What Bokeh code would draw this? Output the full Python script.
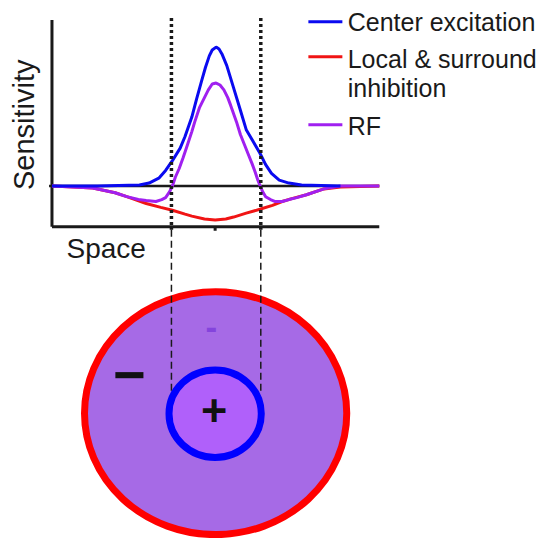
import math
from bokeh.plotting import figure
from bokeh.models import Range1d
from bokeh.core.properties import value
from bokeh.embed import file_html
from bokeh.resources import INLINE

# ---------------- data (space units; sensitivity, baseline = 0) ----------------
center_space = [-1.68, -1.21, -0.78, -0.68, -0.58, -0.51, -0.44, -0.36, -0.31, -0.24,
                -0.19, -0.14, -0.10, -0.06, -0.03, 0.01, 0.04, 0.07, 0.12, 0.19,
                0.26, 0.32, 0.39, 0.46, 0.52, 0.58, 0.66, 0.76, 0.89, 1.29]
center_sens = [0.0, 0.0, 0.01, 0.03, 0.08, 0.16, 0.26, 0.39, 0.51, 0.71,
               0.90, 1.08, 1.22, 1.34, 1.40, 1.43, 1.41, 1.36, 1.24, 1.01,
               0.78, 0.58, 0.46, 0.34, 0.22, 0.13, 0.06, 0.03, 0.01, 0.0]

inhib_space = [-1.68, -1.46, -1.26, -1.03, -0.91, -0.71, -0.56, -0.44, -0.31, -0.24,
               -0.11, 0.0, 0.11, 0.19, 0.32, 0.46, 0.59, 0.69, 0.79, 0.94,
               1.12, 1.29, 1.69]
inhib_sens = [0.0, -0.01, -0.02, -0.07, -0.11, -0.18, -0.22, -0.25, -0.29, -0.31,
              -0.34, -0.35, -0.34, -0.32, -0.28, -0.24, -0.20, -0.16, -0.13, -0.09,
              -0.03, -0.01, 0.0]

rf_space = [-1.68, -1.46, -1.26, -1.03, -0.91, -0.79, -0.71, -0.61, -0.55, -0.51,
            -0.47, -0.44, -0.41, -0.37, -0.33, -0.29, -0.24, -0.21, -0.16, -0.11,
            -0.07, -0.03, 0.01, 0.05, 0.09, 0.13, 0.16, 0.22, 0.26, 0.30,
            0.34, 0.38, 0.41, 0.44, 0.46, 0.49, 0.52, 0.57, 0.62, 0.69,
            0.76, 0.84, 0.94, 1.12, 1.29, 1.69]
rf_sens = [0.0, -0.01, -0.02, -0.07, -0.11, -0.14, -0.15, -0.16, -0.14, -0.12,
           -0.06, 0.0, 0.09, 0.18, 0.29, 0.41, 0.56, 0.66, 0.81, 0.91,
           0.99, 1.05, 1.06, 1.04, 0.99, 0.91, 0.83, 0.66, 0.53, 0.43,
           0.33, 0.23, 0.15, 0.06, 0.01, -0.06, -0.11, -0.14, -0.16, -0.16,
           -0.14, -0.12, -0.09, -0.03, 0.0, 0.0]

rf_edges = [-0.45, 0.47]            # borders of the centre (dashed guides)
legend_lines = ["Center excitation", "Local & surround", "inhibition", "RF"]
legend_colors = ["#0a0af0", "#f01414", "#a020f0"]
axis_labels = ["Sensitivity", "Space"]
signs = ["\u2212", "-", "+"]

BLUE, RED, MAG = legend_colors
FONT = value("Liberation Sans")
INK = "#1a1a1a"

p = figure(width=540, height=538, x_range=Range1d(-2.21, 3.35), y_range=Range1d(-3.63, 1.91),
           x_axis_type=None, y_axis_type=None, output_backend="svg", toolbar_location=None,
           min_border=0, outline_line_color=None, background_fill_color="white")
p.grid.visible = False

# ---------------- sensitivity profile ----------------
x0, x1, yb = -1.68, 1.69, -0.42
p.line([x0, x0], [1.71, yb], line_color=INK, line_width=3)          # y axis
p.line([x0, x1], [yb, yb], line_color=INK, line_width=3)            # x axis
p.line([-1.71, x1], [0, 0], line_color=INK, line_width=2.5)         # zero line
p.line([0, 0], [yb, -0.46], line_color=INK, line_width=3)           # tick

p.line(inhib_space, inhib_sens, line_color=RED, line_width=3)
p.line(rf_space, rf_sens, line_color=MAG, line_width=3)
p.line(center_space, center_sens, line_color=BLUE, line_width=3)

for e in rf_edges:
    p.line([e, e], [1.73, -0.45], line_color=INK, line_width=3.5, line_dash="3 3")

# axis labels
p.text(x=[-1.97], y=[0.63], text=[axis_labels[0]], angle=math.pi / 2, text_font=FONT,
       text_font_size="29px", text_align="center", text_baseline="alphabetic", text_color=INK)
p.text(x=[-1.53], y=[-0.643], text=[axis_labels[1]], text_font=FONT,
       text_font_size="28px", text_align="left", text_baseline="alphabetic", text_color=INK)

# legend
p.segment(x0=[0.96] * 3, x1=[1.31] * 3, y0=[1.69, 1.33, 0.63], y1=[1.69, 1.33, 0.63],
          line_color=legend_colors, line_width=3)
p.text(x=[1.365] * 4, y=[1.686, 1.306, 1.006, 0.616], text=legend_lines, text_font=FONT,
       text_font_size="25px", text_align="left", text_baseline="alphabetic", text_color=INK)

# ---------------- receptive field diagram ----------------
p.ellipse(x=[0.005], y=[-2.34], width=[2.70], height=[2.50], fill_color="#a66ae6",
          line_color="#ff0000", line_width=7)
for e in rf_edges:
    p.line([e, e], [-0.45, -2.14], line_color=INK, line_width=1.5, line_dash="7 4")
p.ellipse(x=[0.0], y=[-2.345], width=[0.95], height=[0.90], fill_color="#b060fa",
          line_color="#0000ff", line_width=7)

p.text(x=[-0.88], y=[-1.95], text=[signs[0]], text_font=FONT, text_font_size="56px",
       text_font_style="bold", text_align="center", text_baseline="alphabetic", text_color="#111111")
p.text(x=[-0.04], y=[-1.45], text=[signs[1]], text_font=FONT, text_font_size="35px",
       text_font_style="bold", text_align="center", text_baseline="alphabetic", text_color="#8444dc")
p.text(x=[-0.01], y=[-2.31], text=[signs[2]], text_font=FONT, text_font_size="45px",
       text_font_style="bold", text_align="center", text_baseline="alphabetic", text_color="#111111")

open("out.html", "w").write(file_html(p, INLINE))
